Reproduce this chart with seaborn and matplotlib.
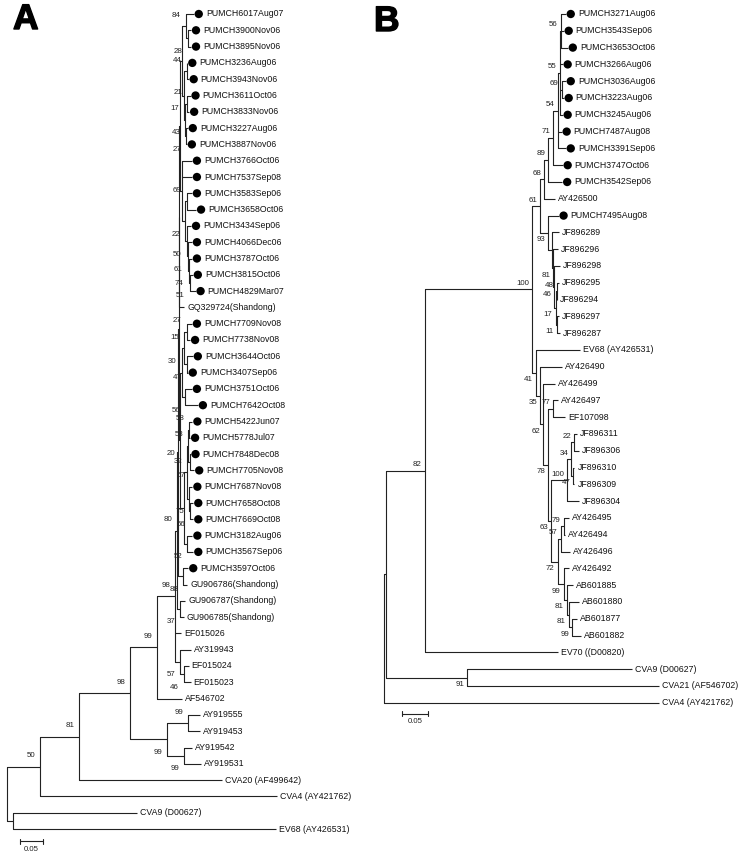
import seaborn as sns
import matplotlib.pyplot as plt
import matplotlib.patheffects as pe

# Newick pieces: branch lengths in substitutions/site, bootstrap as node label
A_PUMCH_1 = ("(((PUMCH6017Aug07:0.017,(PUMCH3900Nov06:0.007,PUMCH3895Nov06:0.007)28:0.004)84:0.009,"
             "((PUMCH3236Aug06:0.001,PUMCH3943Nov06:0.004)44:0.007,((PUMCH3611Oct06:0.007,PUMCH3833Nov06:0.004)21:0.004,"
             "(PUMCH3227Aug06:0.004,PUMCH3887Nov06:0.002)27:0.001)43:0.004)17:0.004):0.004,"
             "(PUMCH3766Oct06:0.022,PUMCH7537Sep08:0.022,((PUMCH3583Sep06:0.011,PUMCH3658Oct06:0.020)69:0.004,"
             "(PUMCH3434Sep06:0.009,(PUMCH4066Dec06:0.009,(PUMCH3787Oct06:0.007,(PUMCH3815Oct06:0.007,"
             "PUMCH4829Mar07:0.013)51:0.002)74:0.002)61:0.002)50:0.004)22:0.007):0.004):0.002")
A_PUMCH_2 = ("((((PUMCH7709Nov08:0.011,PUMCH7738Nov08:0.007)27:0.007,(PUMCH3644Oct06:0.013,PUMCH3407Sep06:0.002)47:0.007)15:0.004,"
             "(PUMCH3751Oct06:0.015,PUMCH7642Oct08:0.028)56:0.007)30:0.004,"
             "((((PUMCH5422Jun07:0.007,PUMCH5778Jul07:0.002)58:0.002,(PUMCH7848Dec08:0.001,PUMCH7705Nov08:0.009)67:0.004)53:0.002,"
             "(PUMCH7687Nov08:0.007,(PUMCH7658Oct08:0.007,PUMCH7669Oct08:0.007)56:0.002)75:0.004)32:0.007,"
             "(PUMCH3182Aug06:0.011,PUMCH3567Sep06:0.013)52:0.007):0.009)20:0.003")
A_TREE = ("((((((((((" + A_PUMCH_1 + ",'GQ329724(Shandong)':0.011):0.001," + A_PUMCH_2 +
          "):0.001,(PUMCH3597Oct06:0.011,'GU906786(Shandong)':0.009)88:0.011):0.002,"
          "('GU906787(Shandong)':0.011,'GU906785(Shandong)':0.007)37:0.007)80:0.004,EF015026:0.013,"
          "(AY319943:0.022,(EF015024:0.011,EF015023:0.015)46:0.007)57:0.011)98:0.039,AF546702:0.054)99:0.059,"
          "((AY919555:0.026,AY919453:0.026)99:0.046,(AY919542:0.017,AY919531:0.037)99:0.037)99:0.080)98:0.111,"
          "'CVA20 (AF499642)':0.311)81:0.085,'CVA4 (AY421762)':0.515)50:0.072,"
          "('CVA9 (D00627)':0.270,'EV68 (AY426531)':0.572):0.013);")

B_PUMCH = ("((((((PUMCH3271Aug06:0.010,PUMCH3543Sep06:0.006,PUMCH3653Oct06:0.014)56:0.002,PUMCH3266Aug06:0.006,"
           "(PUMCH3036Aug06:0.008,PUMCH3223Aug06:0.004)69:0.004,PUMCH3245Aug06:0.006)55:0.004,"
           "PUMCH7487Aug08:0.008,PUMCH3391Sep06:0.016)54:0.008,PUMCH3747Oct06:0.018)71:0.010,"
           "PUMCH3542Sep06:0.027)89:0.008,AY426500:0.021)68:0.008")
B_JF = ("(PUMCH7495Aug08:0.020,(JF896289:0.012,(JF896296:0.008,(JF896298:0.010,((JF896295:0.004,JF896294:0.001)48:0.002,"
        "(JF896297:0.004,JF896287:0.006)11:0.002)17:0.002)46:0.002)81:0.002):0.008)93:0.016")
B_EV71 = ("('EV68 (AY426531)':0.086,(AY426490:0.043,(AY426499:0.023,((AY426497:0.008,EF107098:0.023)77:0.010,"
          "((((JF896311:0.004,JF896306:0.008)22:0.006,(JF896310:0.002,JF896309:0.002)47:0.004)34:0.008,JF896304:0.023)100:0.031,"
          "(((AY426495:0.010,AY426494:0.002)79:0.006,AY426496:0.018)57:0.006,(AY426492:0.010,(AB601885:0.012,"
          "(AB601880:0.020,(AB601877:0.010,AB601882:0.018)99:0.006)81:0.004)81:0.006)99:0.012)72:0.012)63:0.006)78:0.010)62:0.006)35:0.008)41:0.008")
B_TREE = ("(((((" + B_PUMCH + "," + B_JF + ")61:0.016," + B_EV71 + ")100:0.209,'EV70 ((D00820)':0.260)82:0.076,"
          "('CVA9 (D00627)':0.322,'CVA21 (AF546702)':0.375)91:0.158):0.004,'CVA4 (AY421762)':0.537);")

SCALE_LEN = 0.05
LINE = "#222222"


def parse_newick(s):
    pos = 0

    def read_name():
        nonlocal pos
        if s[pos] == "'":
            end = s.index("'", pos + 1)
            name = s[pos + 1:end]
            pos = end + 1
            return name
        start = pos
        while s[pos] not in ",():;":
            pos += 1
        return s[start:pos]

    def node():
        nonlocal pos
        n = {"children": [], "length": 0.0}
        if s[pos] == "(":
            pos += 1
            while True:
                n["children"].append(node())
                if s[pos] == ",":
                    pos += 1
                else:
                    break
            pos += 1
        n["name"] = read_name()
        if s[pos] == ":":
            pos += 1
            start = pos
            while s[pos] not in ",();":
                pos += 1
            n["length"] = float(s[start:pos])
        return n

    return node()


def layout(tree):
    leaves = []

    def walk(n, x):
        n["x"] = x + n["length"]
        if not n["children"]:
            n["y"] = len(leaves)
            leaves.append(n)
        else:
            for c in n["children"]:
                walk(c, n["x"])
            n["y"] = (n["children"][0]["y"] + n["children"][-1]["y"]) / 2

    walk(tree, -tree["length"])
    return leaves


def draw_tree(ax, newick, px, root_px, y0, dy, boot_up, boot_dn, boot_dx, bar_x, bar_dy):
    tree = parse_newick(newick)
    leaves = layout(tree)
    n_leaf = len(leaves)
    ax.set_xlim(-root_px / px, (375 - root_px) / px)
    ax.set_ylim((859 - y0) / dy, -y0 / dy)
    ax.axis("off")

    xs, ys = [], []
    stack = [tree]
    while stack:
        n = stack.pop()
        if not n["children"]:
            continue
        kids = n["children"]
        xs += [n["x"], n["x"], None]
        ys += [kids[0]["y"], kids[-1]["y"], None]
        for i, c in enumerate(kids):
            xs += [n["x"], c["x"], None]
            ys += [c["y"], c["y"], None]
            if c["children"] and c["name"]:
                off = boot_dn if i == len(kids) - 1 else -boot_up
                ax.annotate(c["name"], (c["x"], c["y"]), xytext=(-boot_dx * 0.72, -off * 0.72),
                            textcoords="offset points", ha="right", va="center",
                            fontsize=5.7, color="#222222")
            stack.append(c)
    ax.plot(xs, ys, color=LINE, lw=0.8, solid_capstyle="butt")

    dots_x, dots_y = [], []
    for lf in leaves:
        if lf["name"].startswith("PUMCH"):
            dots_x.append(lf["x"] + 5 / px)
            dots_y.append(lf["y"])
            tx = lf["x"] + 12 / px
        else:
            tx = lf["x"] + 3 / px
        ax.text(tx, lf["y"], lf["name"], ha="left", va="center", fontsize=6.3, color="#111111")
    sns.scatterplot(x=dots_x, y=dots_y, ax=ax, s=36, color="black", edgecolor="none", legend=False)

    # scale bar
    yb = n_leaf - 1 + bar_dy
    tick = 2.5 / dy
    ax.plot([bar_x, bar_x + SCALE_LEN], [yb, yb], color=LINE, lw=0.8)
    ax.plot([bar_x, bar_x], [yb - tick, yb + tick], color=LINE, lw=0.8)
    ax.plot([bar_x + SCALE_LEN] * 2, [yb - tick, yb + tick], color=LINE, lw=0.8)
    ax.text(bar_x + SCALE_LEN / 2, yb + 8 / dy, "0.05", ha="center", va="center", fontsize=5.6, color="#222222")


sns.set_style("white")
plt.rcParams["font.family"] = ["Liberation Sans", "DejaVu Sans"]

fig = plt.figure(figsize=(7.5, 8.59), dpi=100)
ax_a = fig.add_axes([0, 0, 0.5, 1])
ax_b = fig.add_axes([0.5, 0, 0.5, 1])

draw_tree(ax_a, A_TREE, px=460, root_px=7, y0=14, dy=16.3,
          boot_up=11, boot_dn=13, boot_dx=5, bar_x=0.028, bar_dy=0.74)
draw_tree(ax_b, B_TREE, px=512, root_px=9, y0=14, dy=16.8,
          boot_up=6, boot_dn=7, boot_dx=3, bar_x=0.035, bar_dy=0.65)

heavy = [pe.withStroke(linewidth=1.0, foreground="black")]
fig.text(13 / 750, 1 - 3 / 859, "A", ha="left", va="top", fontsize=25.5, fontweight="bold",
         color="black", path_effects=heavy)
fig.text(374 / 750, 1 - 5 / 859, "B", ha="left", va="top", fontsize=25.5, fontweight="bold",
         color="black", path_effects=heavy)

fig.savefig("out.png", dpi=100)
